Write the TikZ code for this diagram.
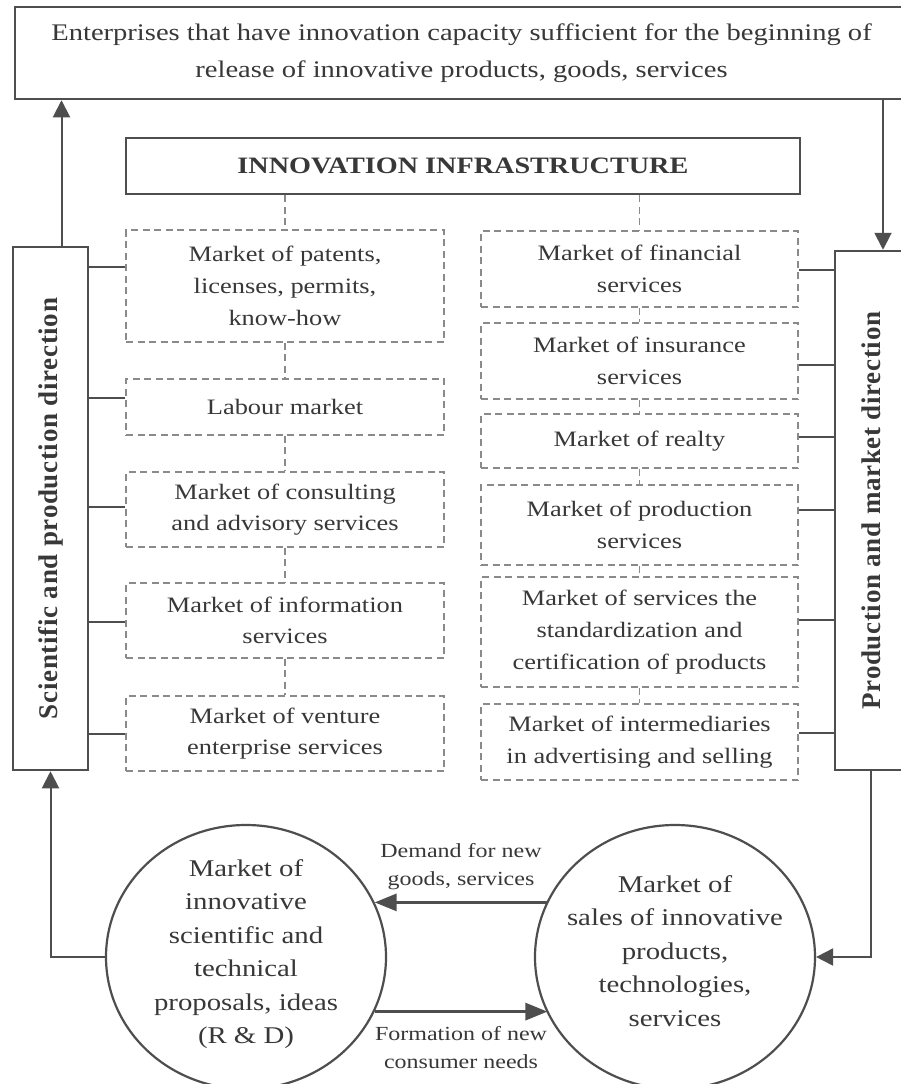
\documentclass[tikz,border=0pt]{standalone}
\usepackage{fontspec}
\usepackage{graphicx}
\setmainfont{Liberation Serif}[FakeStretch=1.2]
\newfontfamily\vfont{Liberation Serif}[LetterSpace=2.5]
\usetikzlibrary{arrows.meta,shapes.geometric}
\definecolor{linec}{HTML}{4E4E4E}
\definecolor{dashc}{HTML}{8A8A8A}
\definecolor{txtc}{HTML}{383838}
\newcommand\myfs[2]{\fontsize{#1}{#2}\selectfont}
\begin{document}
\begin{tikzpicture}[x=1pt,y=-1pt,
  every node/.style={text=txtc, inner sep=0pt},
  sbox/.style={draw=linec, line width=2.5pt, align=center},
  dbox/.style={draw=dashc, line width=1.4pt, dash pattern=on 7pt off 4.5pt, align=center, minimum width=318pt, font=\myfs{22}{31.7}},
  ell/.style={ellipse, draw=linec, line width=2.2pt, minimum width=280pt, minimum height=264pt},
  etext/.style={align=center, font=\myfs{24}{33.5}},
  conn/.style={draw=linec, line width=2pt},
  dconn/.style={draw=dashc, line width=1.4pt, dash pattern=on 7pt off 4.5pt},
  arr/.style={conn, -{Triangle[length=17pt,width=17pt]}},
  lbl/.style={font=\myfs{20}{28}, align=center}
]
\useasboundingbox (0,0) rectangle (901,1084);
\fill[white] (0,0) rectangle (901,1084);

% top box
\node[sbox, minimum width=893pt, minimum height=92pt, font=\myfs{23.8}{37}] (ent) at (461.5,53)
  {Enterprises that have innovation capacity sufficient for the beginning of\\release of innovative products, goods, services};

% infrastructure
\node[sbox, minimum width=674pt, minimum height=56pt, font=\myfs{23.5}{28}\bfseries] (inf) at (463,166) {INNOVATION INFRASTRUCTURE};

% vertical boxes
\node[sbox, minimum width=75pt, minimum height=523pt] (lv) at (50.5,508.5)
  {\rotatebox{90}{\vfont\bfseries\myfs{27}{30}Scientific and production direction}};
\node[sbox, minimum width=72pt, minimum height=519pt] (rv) at (871,510.5)
  {\rotatebox{90}{\vfont\bfseries\myfs{27}{30}Production and market direction}};

% left column
\node[dbox, minimum height=112pt] (p1) at (285,286) {Market of patents,\\licenses, permits,\\know-how};
\node[dbox, minimum height=56pt] (p2) at (285,407) {Labour market};
\node[dbox, minimum height=75pt] (p3) at (285,509.5) {Market of consulting\\and advisory services};
\node[dbox, minimum height=75pt] (p4) at (285,620.5) {Market of information\\services};
\node[dbox, minimum height=75pt] (p5) at (285,733.5) {Market of venture\\enterprise services};

% right column
\node[dbox, minimum width=317pt, minimum height=76pt] (q1) at (639.5,269) {Market of financial\\services};
\node[dbox, minimum width=317pt, minimum height=76pt] (q2) at (639.5,361) {Market of insurance\\services};
\node[dbox, minimum width=317pt, minimum height=54pt] (q3) at (639.5,441) {Market of realty};
\node[dbox, minimum width=317pt, minimum height=80pt] (q4) at (639.5,525) {Market of production\\services};
\node[dbox, minimum width=317pt, minimum height=110pt] (q5) at (639.5,632) {Market of services the\\standardization and\\certification of products};
\node[dbox, minimum width=317pt, minimum height=76pt] (q6) at (639.5,742) {Market of intermediaries\\in advertising and selling};

% ellipses
\node[ell] (L) at (246,957) {};
\node[etext] (Lt) at (246,954) {Market of\\innovative\\scientific and\\technical\\proposals, ideas\\(R \& D)};
\node[ell] (R) at (675,957) {};
\node[etext] (Rt) at (675,951) {Market of\\sales of innovative\\products,\\technologies,\\services};

% dashed links
\draw[dconn] (inf.south -| p1.north) -- (p1.north);
\draw[dconn] (p1.south) -- (p2.north);
\draw[dconn] (p2.south) -- (p3.north);
\draw[dconn] (p3.south) -- (p4.north);
\draw[dconn] (p4.south) -- (p5.north);
\draw[dconn] (inf.south -| q1.north) -- (q1.north);
\draw[dconn] (q1.south) -- (q2.north);
\draw[dconn] (q2.south) -- (q3.north);
\draw[dconn] (q3.south) -- (q4.north);
\draw[dconn] (q4.south) -- (q5.north);
\draw[dconn] (q5.south) -- (q6.north);

% solid links to direction boxes
\draw[conn] ([yshift=19pt]p1.west) -- ([yshift=19pt]p1.west -| lv.east);
\draw[conn] ([yshift=9pt]p2.west) -- ([yshift=9pt]p2.west -| lv.east);
\draw[conn] ([yshift=2.5pt]p3.west) -- ([yshift=2.5pt]p3.west -| lv.east);
\draw[conn] ([yshift=-1.5pt]p4.west) -- ([yshift=-1.5pt]p4.west -| lv.east);
\draw[conn] (p5.west) -- (p5.west -| lv.east);
\draw[conn] ([yshift=-1pt]q1.east) -- ([yshift=-1pt]q1.east -| rv.west);
\draw[conn] ([yshift=-4pt]q2.east) -- ([yshift=-4pt]q2.east -| rv.west);
\draw[conn] ([yshift=4pt]q3.east) -- ([yshift=4pt]q3.east -| rv.west);
\draw[conn] ([yshift=15pt]q4.east) -- ([yshift=15pt]q4.east -| rv.west);
\draw[conn] ([yshift=12pt]q5.east) -- ([yshift=12pt]q5.east -| rv.west);
\draw[conn] ([yshift=9pt]q6.east) -- ([yshift=9pt]q6.east -| rv.west);

% main arrows
\draw[arr] ([xshift=11pt]lv.north) -- ([xshift=11pt]lv.north |- ent.south);
\draw[arr] ([xshift=12pt]rv.north |- ent.south) -- ([xshift=12pt]rv.north);
\draw[arr] (L.west) -| (lv.south);
\draw[arr] (rv.south) |- (R.east);

% arrows between markets
\draw[arr, line width=3pt, -{Triangle[length=22pt,width=17pt]}] (R.156.5 |- L.23.5) -- node[lbl, above=11pt] (dl) {Demand for new\\goods, services} (L.23.5);
\draw[arr, line width=3pt, -{Triangle[length=22pt,width=17pt]}] (L.-23.9) -- node[lbl, below=13pt] (fl) {Formation of new\\consumer needs} (R.-156.1 |- L.-23.9);
\end{tikzpicture}
\end{document}
